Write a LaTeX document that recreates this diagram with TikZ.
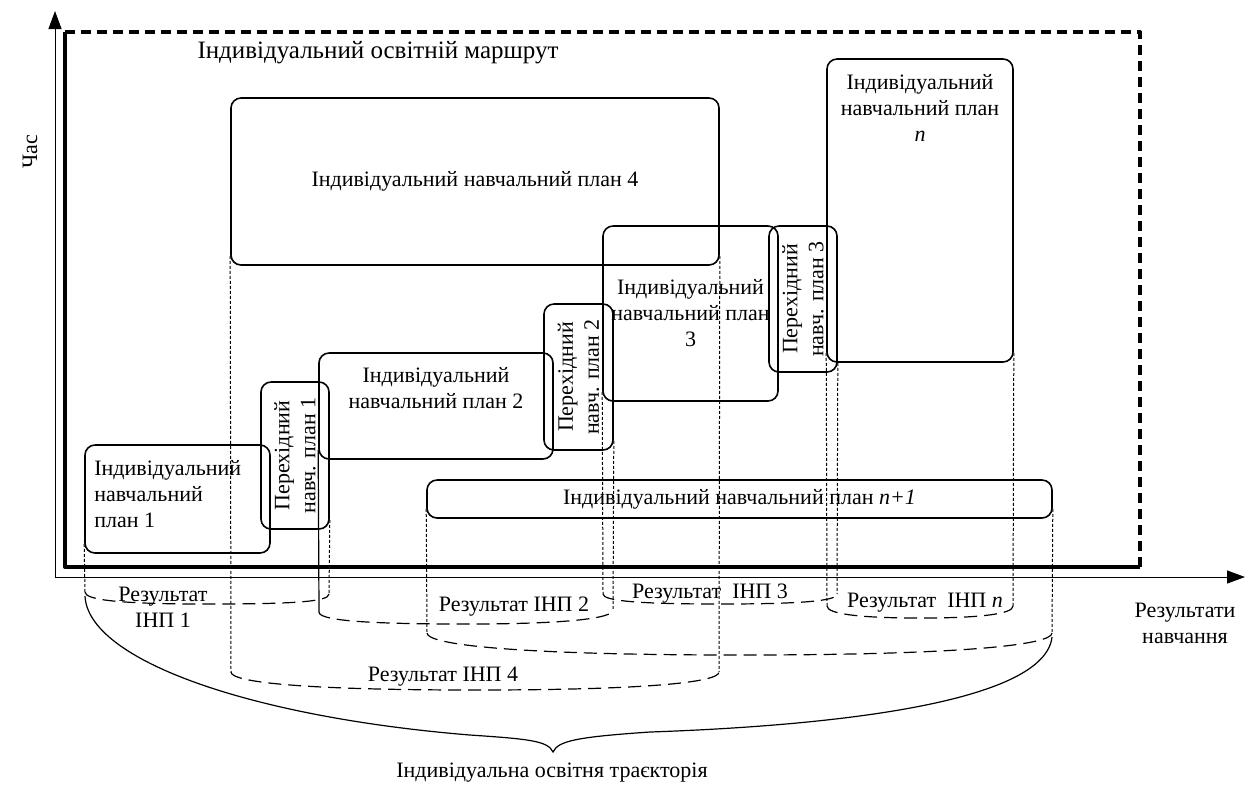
\documentclass[tikz,border=0pt]{standalone}
\usepackage{fontspec}
\setmainfont{Liberation Serif}
\usetikzlibrary{arrows.meta,fit,positioning}

\begin{document}
\begin{tikzpicture}[x=0.5pt, y=-0.5pt,
    plan/.style={draw, line width=0.8pt, rounded corners=5pt, inner sep=0pt},
    txt/.style={font=\fontsize{11}{13}\selectfont, align=center, inner sep=0pt},
    frame/.style={line width=2pt, line join=round},
    axis/.style={line width=0.5pt, -{Triangle[length=9pt,width=6.5pt]}},
    guide/.style={line width=0.5pt, dash pattern=on 1.5pt off 1pt},
    resline/.style={line width=0.6pt, dash pattern=on 6.5pt off 3.5pt},
  ]
  \useasboundingbox (0,0) rectangle (1245,784);

  % Axes
  \coordinate (O) at (55,577);
  \coordinate (tend) at (55,11);
  \coordinate (rend) at (1245,577);
  \draw[axis] (O) -- (tend);
  \draw[axis] (O) -- (rend);
  \node[txt, rotate=90] (time) at (30,152) {Час};
  \node[txt] (res) at (1185,623) {Результати\\навчання};

  % Route frame
  \draw[frame] (1140,567) -- (65,567) -- (65,32);
  \draw[frame, dash pattern=on 5pt off 3pt] (65,32) -- (1140,32) -- (1140,567);
  \node[txt, font=\fontsize{12.5}{15}\selectfont] (title) at (378,53) {Індивідуальний освітній маршрут};

  % Define plans
  \node[plan, fit={(85,445) (270,553)}]   (inp1) {};
  \node[plan, fit={(261,382) (329,529)}]  (tr1) {};
  \node[plan, fit={(319,353) (553,459)}]  (inp2) {};
  \node[plan, fit={(544,304) (613,450)}]  (tr2) {};
  \node[plan, fit={(603,226) (778,401)}]  (inp3) {};
  \node[plan, fit={(769,226) (837,372)}]  (tr3) {};
  \node[plan, fit={(231,98) (719,265)}]   (inp4) {};
  \node[plan, fit={(827,59) (1013,362)}]  (inpn) {};
  \node[plan, fit={(427,480) (1052,518)}] (inpn1) {};

  \node[txt, align=left, anchor=west] (inp1t) at (94,494) {Індивідуальний\\навчальний\\план 1};
  \node[txt] (inp2t) at (436,388) {Індивідуальний\\навчальний план 2};
  \node[txt] (inp3t) at (inp3) {Індивідуальний\\навчальний план\\3};
  \node[txt] (inp4t) at (inp4) {Індивідуальний навчальний план 4};
  \node[txt] (inpnt) at (920,108) {Індивідуальний\\навчальний план\\\textit{n}};
  \node[txt] (inpn1t) at (inpn1) {Індивідуальний навчальний план \textit{n+1}};
  \node[txt, rotate=90] (tr1t) at (tr1) {Перехідний\\навч. план 1};
  \node[txt, rotate=90] (tr2t) at (tr2) {Перехідний\\навч. план 2};
  \node[txt, rotate=90] (tr3t) at (tr3) {Перехідний\\навч. план 3};

  % Results
  \coordinate (r1a) at (85,592);
  \coordinate (r1b) at (329,594);
  \draw[guide] ([yshift=5pt]inp1.south west) -- (r1a);
  \draw[guide] ([yshift=5pt]tr1.south east) -- (r1b);
  \draw[resline] (r1a) .. controls (85,600) and (120,604) .. (207,604) .. controls (290,604) and (329,602) .. (r1b);
  \node[txt] (r1t) at (163,607) {Результат\\ІНП 1};

  \coordinate (r2a) at (319,612);
  \coordinate (r2b) at (613,610);
  \draw[line width=0.6pt] ([yshift=5pt]inp2.south west) -- (r2a);
  \draw[guide] ([yshift=5pt]tr2.south east) -- (r2b);
  \draw[resline] (r2a) .. controls (319,620) and (360,624) .. (466,624) .. controls (570,624) and (613,618) .. (r2b);
  \node[txt] (r2t) at (514,607) {Результат ІНП 2};

  \coordinate (r3a) at (603,594);
  \coordinate (r3b) at (837,594);
  \draw[guide] ([yshift=5pt]inp3.south west) -- (r3a);
  \draw[guide] ([yshift=5pt]tr3.south east) -- (r3b);
  \draw[resline] (r3a) .. controls (603,601) and (640,604) .. (720,604) .. controls (800,604) and (837,601) .. (r3b);
  \node[txt] (r3t) at (710,594) {Результат\ \ ІНП 3};

  \coordinate (rna) at (827,606);
  \coordinate (rnb) at (1013,606);
  \draw[guide] ([yshift=5pt]inpn.south west) -- (rna);
  \draw[guide] ([yshift=5pt]inpn.south east) -- (rnb);
  \draw[resline] (rna) .. controls (827,614) and (860,618) .. (920,618) .. controls (980,618) and (1013,614) .. (rnb);
  \node[txt] (rnt) at (925,603) {Результат\ \ ІНП \textit{n}};

  \coordinate (r4a) at (231,672);
  \coordinate (r4b) at (719,672);
  \draw[guide] ([yshift=5pt]inp4.south west) -- (r4a);
  \draw[guide] ([yshift=5pt]inp4.south east) -- (r4b);
  \draw[resline] (r4a) .. controls (231,682) and (300,690) .. (475,690) .. controls (650,690) and (719,682) .. (r4b);
  \node[txt] (r4t) at (443,677) {Результат ІНП 4};

  \coordinate (rn1a) at (427,633);
  \coordinate (rn1b) at (1052,633);
  \draw[guide] ([yshift=5pt]inpn1.south west) -- (rn1a);
  \draw[guide] ([yshift=5pt]inpn1.south east) -- (rn1b);
  \draw[resline] (rn1a) .. controls (427,645) and (520,655) .. (740,655) .. controls (960,655) and (1052,645) .. (rn1b);

  % Trajectory brace
  \coordinate (bl) at (85,596);
  \coordinate (btip) at (553,752);
  \coordinate (br) at (1052,637);
  \draw[line width=0.6pt] (bl) .. controls (88,660) and (250,717) .. (470,735)
    .. controls (530,739) and (548,741) .. (btip)
    .. controls (558,741) and (576,737) .. (650,732)
    .. controls (850,725) and (1045,700) .. (br);
  \node[txt] (traj) at (552,773) {Індивідуальна освітня траєкторія};

\end{tikzpicture}
\end{document}
